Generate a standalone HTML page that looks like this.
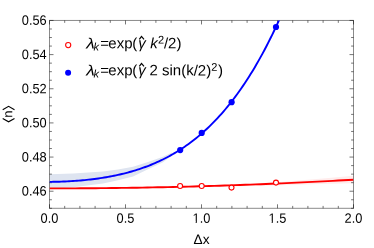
<!DOCTYPE html>
<html><head><meta charset="utf-8"><title>plot</title><style>
html,body{margin:0;padding:0;background:#fff;}
svg{display:block;will-change:transform;font-family:"Liberation Sans",sans-serif;}
</style></head><body>
<svg width="374" height="248" viewBox="0 0 374 248">
<rect width="374" height="248" fill="#fff"/>
<clipPath id="c"><rect x="49.5" y="20.45" width="304.0" height="187.85"/></clipPath>
<g clip-path="url(#c)">
<path d="M49.60,174.20 L73.00,173.60 L103.00,171.60 L118.00,169.60 L133.00,166.70 L148.00,162.10 L163.00,156.80 L172.00,152.60 L172.00,155.60 L163.00,162.20 L148.00,169.30 L133.00,176.50 L118.00,180.30 L103.00,183.40 L73.00,187.20 L49.60,189.00Z" fill="#dee4f0"/>
<path d="M230.00,185.30 L280.00,182.00 L320.00,178.80 L353.70,175.70 L353.70,183.20 L320.00,184.00 L280.00,185.20 L230.00,186.50Z" fill="#ffecec"/>
</g>
<rect x="49.5" y="20.45" width="304.0" height="187.85" fill="none" stroke="#000" stroke-opacity="0.46" stroke-width="1"/>
<path d="M49.50,208.3 v-4 M49.50,20.45 v4 M64.70,208.3 v-2.4 M64.70,20.45 v2.4 M79.90,208.3 v-2.4 M79.90,20.45 v2.4 M95.10,208.3 v-2.4 M95.10,20.45 v2.4 M110.30,208.3 v-2.4 M110.30,20.45 v2.4 M125.50,208.3 v-4 M125.50,20.45 v4 M140.70,208.3 v-2.4 M140.70,20.45 v2.4 M155.90,208.3 v-2.4 M155.90,20.45 v2.4 M171.10,208.3 v-2.4 M171.10,20.45 v2.4 M186.30,208.3 v-2.4 M186.30,20.45 v2.4 M201.50,208.3 v-4 M201.50,20.45 v4 M216.70,208.3 v-2.4 M216.70,20.45 v2.4 M231.90,208.3 v-2.4 M231.90,20.45 v2.4 M247.10,208.3 v-2.4 M247.10,20.45 v2.4 M262.30,208.3 v-2.4 M262.30,20.45 v2.4 M277.50,208.3 v-4 M277.50,20.45 v4 M292.70,208.3 v-2.4 M292.70,20.45 v2.4 M307.90,208.3 v-2.4 M307.90,20.45 v2.4 M323.10,208.3 v-2.4 M323.10,20.45 v2.4 M338.30,208.3 v-2.4 M338.30,20.45 v2.4 M353.50,208.3 v-4 M353.50,20.45 v4 M49.5,208.30 h2.4 M353.5,208.30 h-2.4 M49.5,199.76 h2.4 M353.5,199.76 h-2.4 M49.5,191.22 h4 M353.5,191.22 h-4 M49.5,182.68 h2.4 M353.5,182.68 h-2.4 M49.5,174.15 h2.4 M353.5,174.15 h-2.4 M49.5,165.61 h2.4 M353.5,165.61 h-2.4 M49.5,157.07 h4 M353.5,157.07 h-4 M49.5,148.53 h2.4 M353.5,148.53 h-2.4 M49.5,139.99 h2.4 M353.5,139.99 h-2.4 M49.5,131.45 h2.4 M353.5,131.45 h-2.4 M49.5,122.91 h4 M353.5,122.91 h-4 M49.5,114.38 h2.4 M353.5,114.38 h-2.4 M49.5,105.84 h2.4 M353.5,105.84 h-2.4 M49.5,97.30 h2.4 M353.5,97.30 h-2.4 M49.5,88.76 h4 M353.5,88.76 h-4 M49.5,80.22 h2.4 M353.5,80.22 h-2.4 M49.5,71.68 h2.4 M353.5,71.68 h-2.4 M49.5,63.14 h2.4 M353.5,63.14 h-2.4 M49.5,54.60 h4 M353.5,54.60 h-4 M49.5,46.07 h2.4 M353.5,46.07 h-2.4 M49.5,37.53 h2.4 M353.5,37.53 h-2.4 M49.5,28.99 h2.4 M353.5,28.99 h-2.4 M49.5,20.45 h4 M353.5,20.45 h-4" stroke="#000" stroke-opacity="0.6" stroke-width="0.9" fill="none"/>
<g clip-path="url(#c)">
<path d="M49.50,181.87 L51.45,181.85 L53.41,181.82 L55.36,181.78 L57.32,181.74 L59.27,181.68 L61.23,181.62 L63.18,181.55 L65.13,181.47 L67.09,181.37 L69.04,181.27 L71.00,181.16 L72.95,181.04 L74.91,180.91 L76.86,180.77 L78.81,180.61 L80.77,180.45 L82.72,180.28 L84.68,180.09 L86.63,179.89 L88.59,179.68 L90.54,179.46 L92.49,179.23 L94.45,178.98 L96.40,178.73 L98.36,178.45 L100.31,178.17 L102.27,177.87 L104.22,177.56 L106.17,177.23 L108.13,176.89 L110.08,176.53 L112.04,176.16 L113.99,175.77 L115.95,175.36 L117.90,174.94 L119.85,174.50 L121.81,174.05 L123.76,173.57 L125.72,173.08 L127.67,172.56 L129.63,172.03 L131.58,171.48 L133.53,170.91 L135.49,170.31 L137.44,169.70 L139.40,169.06 L141.35,168.40 L143.31,167.72 L145.26,167.01 L147.21,166.28 L149.17,165.53 L151.12,164.75 L153.08,163.94 L155.03,163.10 L156.99,162.24 L158.94,161.35 L160.89,160.44 L162.85,159.49 L164.80,158.51 L166.76,157.51 L168.71,156.47 L170.67,155.40 L172.62,154.29 L174.57,153.16 L176.53,151.99 L178.48,150.78 L180.44,149.54 L182.39,148.26 L184.35,146.95 L186.30,145.59 L188.25,144.20 L190.21,142.77 L192.16,141.30 L194.12,139.79 L196.07,138.23 L198.03,136.63 L199.98,134.99 L201.93,133.30 L203.89,131.57 L205.84,129.79 L207.80,127.97 L209.75,126.09 L211.71,124.17 L213.66,122.20 L215.61,120.17 L217.57,118.09 L219.52,115.96 L221.48,113.78 L223.43,111.54 L225.39,109.25 L227.34,106.90 L229.29,104.49 L231.25,102.02 L233.20,99.49 L235.16,96.90 L237.11,94.25 L239.07,91.53 L241.02,88.75 L242.97,85.90 L244.93,82.99 L246.88,80.01 L248.84,76.96 L250.79,73.84 L252.75,70.65 L254.70,67.39 L256.65,64.06 L258.61,60.65 L260.56,57.16 L262.52,53.60 L264.47,49.95 L266.43,46.23 L268.38,42.43 L270.33,38.55 L272.29,34.58 L274.24,30.53 L276.20,26.39 L278.15,22.17 L280.11,17.85 L282.06,13.45" fill="none" stroke="#0000ff" stroke-width="1.9" stroke-linejoin="round"/>
<path d="M49.50,188.40 L54.65,188.40 L59.81,188.39 L64.96,188.38 L70.11,188.36 L75.26,188.34 L80.42,188.31 L85.57,188.28 L90.72,188.24 L95.87,188.20 L101.03,188.15 L106.18,188.10 L111.33,188.04 L116.48,187.98 L121.64,187.91 L126.79,187.84 L131.94,187.76 L137.09,187.68 L142.25,187.59 L147.40,187.50 L152.55,187.40 L157.70,187.30 L162.86,187.19 L168.01,187.08 L173.16,186.96 L178.31,186.84 L183.47,186.71 L188.62,186.58 L193.77,186.44 L198.92,186.30 L204.08,186.15 L209.23,186.00 L214.38,185.84 L219.53,185.68 L224.69,185.51 L229.84,185.34 L234.99,185.16 L240.14,184.98 L245.30,184.79 L250.45,184.60 L255.60,184.40 L260.75,184.20 L265.91,183.99 L271.06,183.78 L276.21,183.56 L281.36,183.34 L286.52,183.11 L291.67,182.88 L296.82,182.64 L301.97,182.40 L307.13,182.15 L312.28,181.90 L317.43,181.64 L322.58,181.38 L327.74,181.11 L332.89,180.84 L338.04,180.56 L343.19,180.28 L348.35,179.99 L353.50,179.70" fill="none" stroke="#ff0000" stroke-width="1.9" stroke-linejoin="round"/>
</g>
<circle cx="180.2" cy="150.1" r="3.1" fill="#0000ff"/><circle cx="201.7" cy="132.9" r="3.1" fill="#0000ff"/><circle cx="231.6" cy="102.2" r="3.1" fill="#0000ff"/><circle cx="276" cy="27" r="3.1" fill="#0000ff"/><circle cx="180.1" cy="186" r="2.5" fill="#fff" stroke="#ff0000" stroke-width="1.1"/><circle cx="201.7" cy="186" r="2.5" fill="#fff" stroke="#ff0000" stroke-width="1.1"/><circle cx="231.5" cy="187.6" r="2.5" fill="#fff" stroke="#ff0000" stroke-width="1.1"/><circle cx="276" cy="182.6" r="2.5" fill="#fff" stroke="#ff0000" stroke-width="1.1"/>
<g fill="#000">
<text transform="translate(46.70,195.62) rotate(0.1) scale(0.985,1.045)" font-size="13" text-anchor="end">0.46</text><text transform="translate(46.70,161.47) rotate(0.1) scale(0.985,1.045)" font-size="13" text-anchor="end">0.48</text><text transform="translate(46.70,127.31) rotate(0.1) scale(0.985,1.045)" font-size="13" text-anchor="end">0.50</text><text transform="translate(46.70,93.16) rotate(0.1) scale(0.985,1.045)" font-size="13" text-anchor="end">0.52</text><text transform="translate(46.70,59.00) rotate(0.1) scale(0.985,1.045)" font-size="13" text-anchor="end">0.54</text><text transform="translate(46.70,24.85) rotate(0.1) scale(0.985,1.045)" font-size="13" text-anchor="end">0.56</text><text transform="translate(49.50,222.75) rotate(0.1) scale(0.985,1.045)" font-size="13" text-anchor="middle">0.0</text><text transform="translate(125.50,222.75) rotate(0.1) scale(0.985,1.045)" font-size="13" text-anchor="middle">0.5</text><text transform="translate(201.50,222.75) rotate(0.1) scale(0.985,1.045)" font-size="13" text-anchor="middle">1.0</text><text transform="translate(277.50,222.75) rotate(0.1) scale(0.985,1.045)" font-size="13" text-anchor="middle">1.5</text><text transform="translate(353.50,222.75) rotate(0.1) scale(0.985,1.045)" font-size="13" text-anchor="middle">2.0</text><text transform="translate(201.60,243.90) rotate(0.1)" font-size="13.7" text-anchor="middle">Δx</text><rect x="192.10" y="220.9" width="3.52" height="2.6" fill="#fff"/><rect x="196.95" y="220.9" width="2.77" height="2.6" fill="#fff"/><rect x="268.10" y="220.9" width="3.52" height="2.6" fill="#fff"/><rect x="272.95" y="220.9" width="2.77" height="2.6" fill="#fff"/>

<circle cx="68.2" cy="45.05" r="2.6" fill="#fff" stroke="#ff0000" stroke-width="1.05"/>
<circle cx="68.1" cy="72.7" r="3" fill="#0000ff"/>
<text transform="translate(86.20,48.50) rotate(0.1) scale(1.15,1.0)" font-size="15" text-anchor="start" font-style="italic">λ</text><text transform="translate(93.50,50.50) rotate(0.1)" font-size="11" text-anchor="start" font-style="italic">k</text><text transform="translate(100.20,48.30) rotate(0.1)" font-size="15" text-anchor="start">=</text><text transform="translate(108.30,48.30) rotate(0.1)" font-size="15" text-anchor="start">exp</text><text transform="translate(132.30,48.30) rotate(0.1)" font-size="15" text-anchor="start">(</text><text transform="translate(138.20,48.30) rotate(0.1)" font-size="15" text-anchor="start" font-style="italic">γ</text><path d="M139.3,39.30 L141.5,36.40 L144.0,39.30" fill="none" stroke="#000" stroke-width="1.2"/>
<text transform="translate(150.30,48.30) rotate(0.1)" font-size="15" text-anchor="start" font-style="italic">k</text>
<text transform="translate(158.00,43.60) rotate(0.1)" font-size="11" text-anchor="start">2</text>
<text transform="translate(163.90,48.30) rotate(0.1)" font-size="15" text-anchor="start">/2)</text>
<text transform="translate(86.20,75.50) rotate(0.1) scale(1.15,1.0)" font-size="15" text-anchor="start" font-style="italic">λ</text><text transform="translate(93.50,77.50) rotate(0.1)" font-size="11" text-anchor="start" font-style="italic">k</text><text transform="translate(100.20,75.30) rotate(0.1)" font-size="15" text-anchor="start">=</text><text transform="translate(108.30,75.30) rotate(0.1)" font-size="15" text-anchor="start">exp</text><text transform="translate(132.30,75.30) rotate(0.1)" font-size="15" text-anchor="start">(</text><text transform="translate(138.20,75.30) rotate(0.1)" font-size="15" text-anchor="start" font-style="italic">γ</text><path d="M139.3,66.30 L141.5,63.40 L144.0,66.30" fill="none" stroke="#000" stroke-width="1.2"/>
<text transform="translate(149.50,75.30) rotate(0.1)" font-size="15" text-anchor="start">2 sin(k/2)</text>
<text transform="translate(211.20,70.80) rotate(0.1)" font-size="11" text-anchor="start">2</text>
<text transform="translate(218.10,75.30) rotate(0.1)" font-size="15" text-anchor="start">)</text>


<g transform="translate(12.3,114.1) rotate(-90)">
<text x="0" y="0" text-anchor="middle" font-size="13" transform="rotate(0.1)">n</text>
<path d="M-4.45,-9.6 L-7.75,-3.7 L-4.45,2.2 M4.45,-9.6 L7.75,-3.7 L4.45,2.2" fill="none" stroke="#000" stroke-width="1.15"/>
</g>

</g>
</svg>
</body></html>
